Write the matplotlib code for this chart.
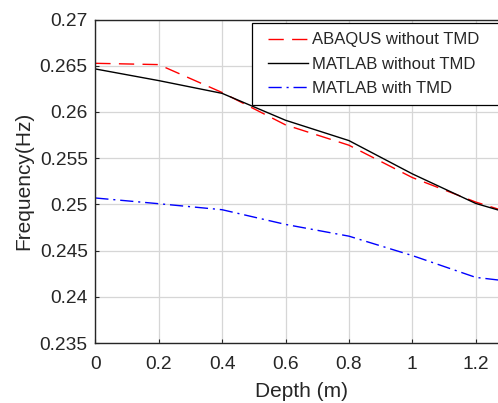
import numpy as np
import matplotlib
matplotlib.use("Agg")
import matplotlib.pyplot as plt
from matplotlib.lines import Line2D
from matplotlib.legend_handler import HandlerLine2D

# ---------- data ----------
depth = [0, 0.2, 0.4, 0.6, 0.8, 1.0, 1.2, 1.4]
abaqus_no_tmd = [0.26526, 0.26512, 0.26210, 0.25860, 0.25640, 0.25290, 0.25025, 0.24810]
matlab_no_tmd = [0.26465, 0.26339, 0.26201, 0.25910, 0.25690, 0.25330, 0.25010, 0.24810]
matlab_tmd = [0.25069, 0.25007, 0.24942, 0.24783, 0.24656, 0.24446, 0.24210, 0.24130]

labels = ["ABAQUS without TMD", "MATLAB without TMD", "MATLAB with TMD"]
xticks = [0, 0.2, 0.4, 0.6, 0.8, 1.0, 1.2]
yticks = [0.235, 0.24, 0.245, 0.25, 0.255, 0.26, 0.265, 0.27]

plt.rcParams["font.family"] = ["Liberation Sans", "DejaVu Sans"]
W, H = 498, 403
fig = plt.figure(figsize=(W / 100, H / 100), dpi=100)

# axes run past the right border of the picture (cropped MATLAB figure)
x0, x1 = 95.3, 507.4
ytop, ybot = 19.5, 343.0
ax = fig.add_axes([x0 / W, 1 - ybot / H, (x1 - x0) / W, (ybot - ytop) / H])

ax.plot(depth, abaqus_no_tmd, color="red", lw=1.0, ls=(0, (11, 6)), label=labels[0])
ax.plot(depth, matlab_no_tmd, color="black", lw=1.0, ls="-", label=labels[1])
ax.plot(depth, matlab_tmd, color="blue", lw=1.0, ls=(0, (9.5, 3.5, 1.5, 3.5)), label=labels[2])

ax.set_xlim(0, 1.3)
ax.set_ylim(0.235, 0.27)
ax.set_xticks(xticks)
ax.set_xticklabels(["0", "0.2", "0.4", "0.6", "0.8", "1", "1.2"])
ax.set_yticks(yticks)
ax.set_yticklabels(["0.235", "0.24", "0.245", "0.25", "0.255", "0.26", "0.265", "0.27"])

ax.grid(True, color="#d6d6d6", lw=0.9)
ax.set_axisbelow(True)
for s in ax.spines.values():
    s.set_color("#262626")
    s.set_linewidth(1.0)
ax.tick_params(direction="in", length=3.2, width=0.8, colors="#262626", labelsize=13.8)
ax.tick_params(axis="x", pad=9.5)
ax.tick_params(axis="y", pad=5.5)

ax.set_xlabel("Depth (m)", fontsize=15, color="#262626", labelpad=6)
ax.set_ylabel("Frequency(Hz)", fontsize=15, color="#262626", labelpad=4.5)

leg = ax.legend(loc="upper left", mode="expand",
                bbox_to_anchor=(251.7 / W, 1 - 98.3 / H, (503 - 251.7) / W, (98.3 - 23.3) / H),
                bbox_transform=fig.transFigure, borderaxespad=0,
                fontsize=12, frameon=True, fancybox=False, framealpha=1,
                edgecolor="black", borderpad=0.55, labelspacing=0.56,
                handlelength=2.85, handletextpad=0.2,
                handler_map={Line2D: HandlerLine2D(xpad=0.45)})
leg.get_frame().set_linewidth(0.9)
for t in leg.get_texts():
    t.set_color("#262626")

fig.savefig("out.png", dpi=100)
